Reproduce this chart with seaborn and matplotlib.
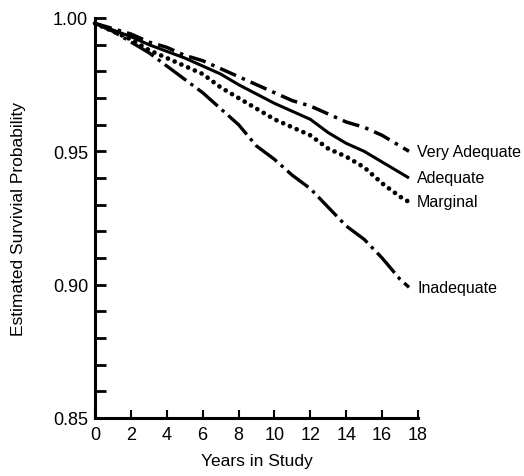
import matplotlib
matplotlib.use("Agg")
import matplotlib.pyplot as plt
import seaborn as sns
import pandas as pd
from matplotlib.ticker import MultipleLocator

years = [0, 1, 2, 3, 4, 5, 6, 7, 8, 9, 10, 11, 12, 13, 14, 15, 16, 17, 17.5]
very_adequate = [0.998, 0.996, 0.994, 0.991, 0.989, 0.986, 0.984, 0.981, 0.978, 0.975,
                 0.972, 0.969, 0.967, 0.964, 0.961, 0.959, 0.956, 0.952, 0.950]
adequate = [0.998, 0.9955, 0.993, 0.990, 0.9875, 0.985, 0.982, 0.979, 0.975, 0.9715,
            0.968, 0.965, 0.962, 0.957, 0.953, 0.950, 0.946, 0.942, 0.940]
marginal = [0.998, 0.995, 0.992, 0.988, 0.985, 0.982, 0.979, 0.974, 0.970, 0.966,
            0.962, 0.959, 0.956, 0.951, 0.948, 0.944, 0.938, 0.933, 0.931]
inadequate = [0.998, 0.995, 0.991, 0.987, 0.982, 0.977, 0.972, 0.966, 0.960, 0.952,
              0.947, 0.941, 0.936, 0.929, 0.922, 0.917, 0.910, 0.902, 0.899]
series_names = ["Very Adequate", "Adequate", "Marginal", "Inadequate"]
x_ticks = [0, 2, 4, 6, 8, 10, 12, 14, 16, 18]
y_ticks = [0.85, 0.90, 0.95, 1.00]

sns.set_theme(style="white")
plt.rcParams['font.family'] = ['Liberation Sans', 'DejaVu Sans']

fig = plt.figure(figsize=(5.24, 4.77), dpi=100)
ax = fig.add_axes([95/524, (477-419)/477, (418-95)/524, (419-19)/477])

vals = [very_adequate, adequate, marginal, inadequate]
styles = [
    dict(ls=(0, (5, 1.8, 1.0, 1.8)), lw=2.5, cap="butt"),
    dict(ls="-", lw=2.2, cap="butt"),
    dict(ls=(0, (0.01, 1.55)), lw=3.4, cap="round"),
    dict(ls=(0, (8, 1.6, 1.0, 1.6)), lw=2.4, cap="butt"),
]
for name, v, st in zip(series_names, vals, styles):
    df = pd.DataFrame({"Years": years, "Survival": v})
    sns.lineplot(data=df, x="Years", y="Survival", ax=ax, color="black",
                 linewidth=st["lw"], linestyle=st["ls"])
    ln = ax.lines[-1]
    ln.set_dash_capstyle(st["cap"])
    ln.set_solid_capstyle("butt")
    ax.text(years[-1] + 0.45, v[-1], name, fontsize=11.5, va="center", ha="left",
            color="black")

ax.set_xlim(0, 18)
ax.set_ylim(0.85, 1.0)
ax.set_xticks(x_ticks)
ax.set_yticks(y_ticks)
ax.set_yticklabels([f"{t:.2f}" for t in y_ticks])
ax.yaxis.set_minor_locator(MultipleLocator(0.01))
ax.tick_params(axis="y", which="both", direction="in", length=8, width=2,
               left=True, labelsize=13, pad=5, colors="black")
ax.tick_params(axis="x", which="major", direction="in", length=6, width=1.5,
               bottom=True, labelsize=13, pad=6, colors="black")
for s in ["top", "right"]:
    ax.spines[s].set_visible(False)
for s in ["left", "bottom"]:
    ax.spines[s].set_linewidth(2.2)
    ax.spines[s].set_color("black")
ax.set_xlabel("Years in Study", fontsize=12.5, labelpad=7, color="black")
ax.set_ylabel("Estimated Survivial Probability", fontsize=12.5, labelpad=19, color="black")
for ln in ax.lines:
    ln.set_clip_on(False)

fig.savefig("out.png", dpi=100)
